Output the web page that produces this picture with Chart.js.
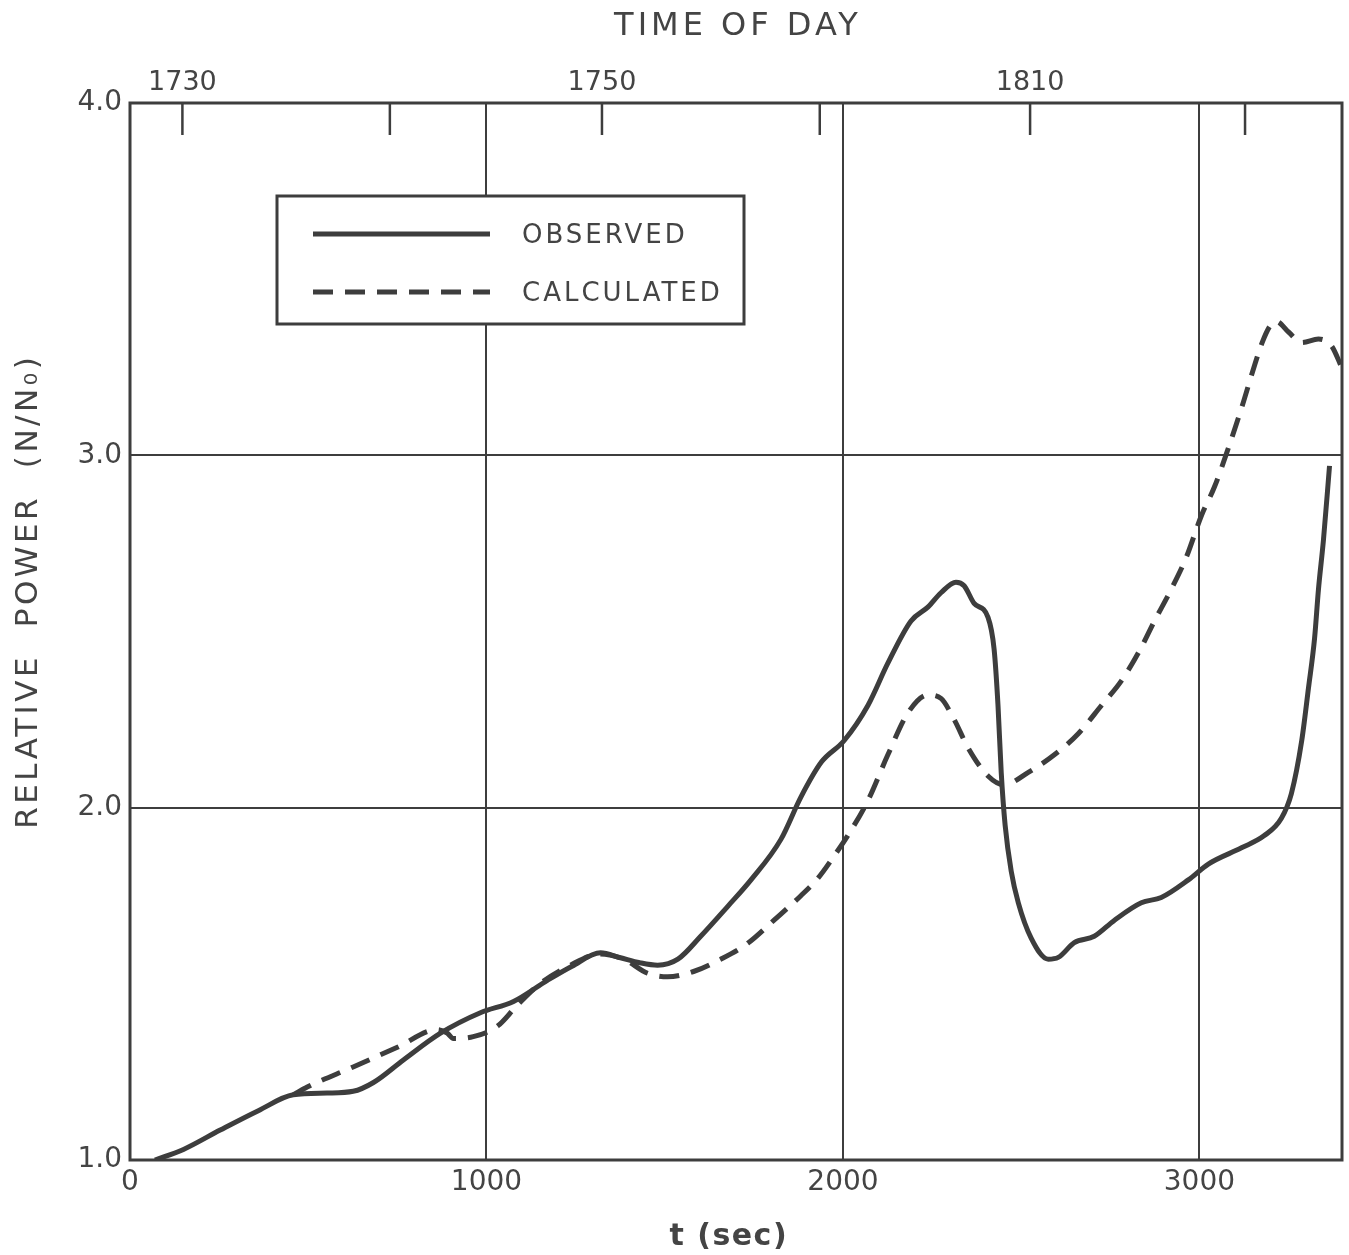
<!DOCTYPE html>
<html>
<head>
<meta charset="utf-8">
<style>
  html, body { margin: 0; padding: 0; background: #fff; }
  #wrap { width: 1349px; height: 1255px; }
</style>
</head>
<body>
<div id="wrap"><canvas id="powerChart" width="1349" height="1255"></canvas></div>
<script src="https://cdn.jsdelivr.net/npm/chart.js"></script>
<script>
// values
const obsTime = [70, 150, 253, 360, 458, 553, 626, 683, 767, 871, 983, 1076, 1171, 1240, 1320, 1376, 1430, 1480, 1537, 1601, 1677, 1742, 1826, 1882, 1940, 2003, 2070, 2126, 2191, 2239, 2275, 2317, 2340, 2368, 2407, 2424, 2435, 2444, 2455, 2472, 2492, 2528, 2576, 2604, 2649, 2705, 2761, 2837, 2893, 2969, 3025, 3118, 3181, 3230, 3258, 3287, 3306, 3323, 3334, 3348, 3365];
const obsPower = [1.0, 1.03, 1.085, 1.14, 1.185, 1.19, 1.195, 1.22, 1.284, 1.36, 1.418, 1.45, 1.51, 1.55, 1.588, 1.574, 1.56, 1.553, 1.57, 1.635, 1.72, 1.795, 1.91, 2.03, 2.13, 2.19, 2.29, 2.41, 2.53, 2.57, 2.61, 2.64, 2.63, 2.58, 2.54, 2.45, 2.29, 2.10, 1.95, 1.82, 1.73, 1.63, 1.57, 1.575, 1.617, 1.635, 1.68, 1.73, 1.745, 1.795, 1.84, 1.886, 1.92, 1.97, 2.04, 2.19, 2.34, 2.48, 2.62, 2.76, 2.97];

const calcTime = [458, 497, 626, 750, 862, 890, 907, 963, 1031, 1087, 1150, 1230, 1320, 1385, 1452, 1508, 1581, 1657, 1733, 1806, 1882, 1930, 1980, 2013, 2070, 2126, 2183, 2239, 2275, 2312, 2351, 2407, 2452, 2520, 2593, 2660, 2725, 2781, 2829, 2874, 2921, 2963, 3006, 3042, 3081, 3120, 3150, 3176, 3200, 3216, 3250, 3287, 3334, 3371, 3399];
const calcPower = [1.185, 1.207, 1.264, 1.32, 1.37, 1.36, 1.345, 1.35, 1.38, 1.44, 1.50, 1.55, 1.585, 1.57, 1.53, 1.52, 1.535, 1.57, 1.615, 1.68, 1.75, 1.80, 1.87, 1.92, 2.02, 2.15, 2.27, 2.32, 2.31, 2.25, 2.17, 2.09, 2.065, 2.10, 2.15, 2.21, 2.29, 2.36, 2.44, 2.53, 2.62, 2.71, 2.83, 2.91, 3.02, 3.14, 3.24, 3.32, 3.37, 3.38, 3.35, 3.32, 3.33, 3.31, 3.25];

const secTicks = [0, 1000, 2000, 3000];
const powerTicks = [1.0, 2.0, 3.0, 4.0];
// time of day marks, every 10 minutes
const clockTicks = [147, 729, 1324, 1935, 2525, 3128];
const clockLabels = ['1730', '', '1750', '', '1810', ''];

const topTitle = 'TIME OF DAY';
const leftTitle = 'RELATIVE  POWER  (N/N₀)';
const bottomTitle = 't (sec)';

const ink = '#3d3d3d';
const textInk = '#444';
const family = "'DejaVu Sans', sans-serif";
Chart.defaults.font.family = family;
Chart.defaults.color = textInk;

function toPoints(xs, ys) {
    return xs.map((x, i) => ({ x: x, y: ys[i] }));
}

function spacedText(ctx, text, x, y, font, spacing, angle) {
    ctx.save();
    ctx.translate(x, y);
    ctx.rotate(angle || 0);
    ctx.font = font;
    ctx.letterSpacing = spacing + 'px';
    ctx.fillStyle = textInk;
    ctx.textAlign = 'center';
    ctx.textBaseline = 'middle';
    ctx.fillText(text, spacing / 2, 0);
    ctx.restore();
}

// box around the plot, inward time-of-day ticks, axis titles and legend
const framePlugin = {
    id: 'frame',
    afterDraw(chart) {
        const { ctx, chartArea: a } = chart;
        const top = chart.scales.xTop;
        ctx.save();
        ctx.strokeStyle = ink;
        ctx.lineWidth = 3;
        ctx.strokeRect(a.left, a.top, a.right - a.left, a.bottom - a.top);

        ctx.lineWidth = 2.5;
        clockTicks.forEach(v => {
            const px = top.getPixelForValue(v);
            ctx.beginPath();
            ctx.moveTo(px, a.top);
            ctx.lineTo(px, a.top + 32);
            ctx.stroke();
        });

        const midX = (a.left + a.right) / 2;
        spacedText(ctx, topTitle, midX, 27, '32px ' + family, 4);
        spacedText(ctx, leftTitle, 29, a.top + 490, '31px ' + family, 3.5, -Math.PI / 2);
        spacedText(ctx, bottomTitle, midX - 8, 1237, 'bold 30px ' + family, 1.5);

        // legend box
        const bx = a.left + 147, by = a.top + 93, bw = 467, bh = 128;
        ctx.fillStyle = '#fff';
        ctx.fillRect(bx, by, bw, bh);
        ctx.lineWidth = 3;
        ctx.strokeRect(bx, by, bw, bh);
        chart.data.datasets.forEach((ds, i) => {
            const ly = by + 38 + i * 58;
            ctx.strokeStyle = ds.borderColor;
            ctx.lineWidth = ds.borderWidth;
            ctx.setLineDash(ds.borderDash || []);
            ctx.beginPath();
            ctx.moveTo(bx + 36, ly);
            ctx.lineTo(bx + 213, ly);
            ctx.stroke();
            ctx.setLineDash([]);
            ctx.fillStyle = textInk;
            ctx.font = '26px ' + family;
            ctx.letterSpacing = '3px';
            ctx.textBaseline = 'middle';
            ctx.fillText(ds.label, bx + 245, ly + 2);
            ctx.letterSpacing = '0px';
        });
        ctx.restore();
    }
};

const ctx = document.getElementById('powerChart').getContext('2d');
const powerChart = new Chart(ctx, {
    type: 'line',
    data: {
        datasets: [{
            label: 'OBSERVED',
            data: toPoints(obsTime, obsPower),
            borderColor: ink,
            borderWidth: 5,
            pointRadius: 0,
            cubicInterpolationMode: 'monotone',
            fill: false
        }, {
            label: 'CALCULATED',
            data: toPoints(calcTime, calcPower),
            borderColor: ink,
            borderWidth: 5,
            borderDash: [20, 12],
            pointRadius: 0,
            cubicInterpolationMode: 'monotone',
            fill: false
        }]
    },
    options: {
        responsive: false,
        animation: false,
        layout: { padding: { left: 0, right: 7, top: 0, bottom: 0 } },
        plugins: {
            legend: { display: false },
            tooltip: { enabled: false }
        },
        scales: {
            x: {
                type: 'linear',
                position: 'bottom',
                min: 0,
                max: 3400,
                afterBuildTicks: s => { s.ticks = secTicks.map(v => ({ value: v })); },
                afterFit: s => { s.height = 95; },
                ticks: { font: { size: 28 }, padding: 6, maxRotation: 0, callback: v => String(v) },
                grid: { color: ink, lineWidth: 2, drawTicks: false },
                border: { display: false }
            },
            xTop: {
                type: 'linear',
                position: 'top',
                min: 0,
                max: 3400,
                afterBuildTicks: s => { s.ticks = clockTicks.map(v => ({ value: v })); },
                afterFit: s => { s.height = 103; },
                ticks: {
                    font: { size: 27 },
                    padding: 4,
                    maxRotation: 0,
                    autoSkip: false,
                    callback: (v, i) => clockLabels[i]
                },
                grid: { display: false, drawTicks: false },
                border: { display: false }
            },
            y: {
                min: 1,
                max: 4,
                afterBuildTicks: s => { s.ticks = powerTicks.map(v => ({ value: v })); },
                afterFit: s => { s.width = 130; },
                ticks: {
                    font: { size: 28 },
                    padding: 8,
                    callback: v => v.toFixed(1)
                },
                grid: { color: ink, lineWidth: 2, drawTicks: false },
                border: { display: false }
            }
        }
    },
    plugins: [framePlugin]
});
</script>
</body>
</html>
